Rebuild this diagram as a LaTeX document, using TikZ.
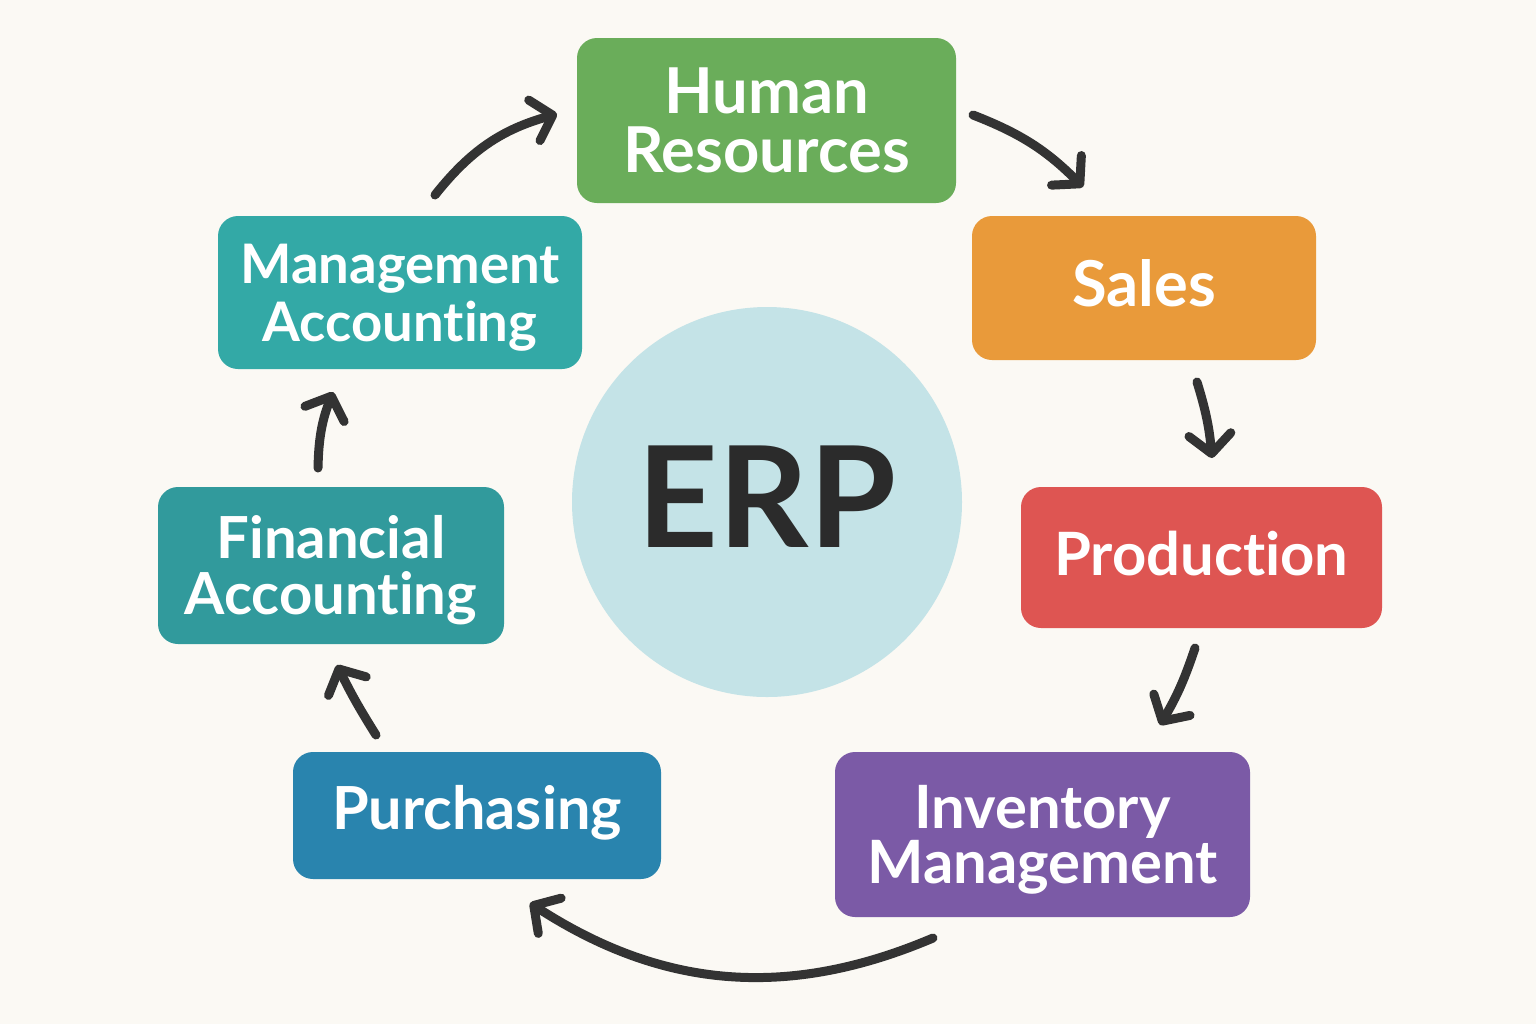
\documentclass[tikz,border=0pt]{standalone}
\usepackage{fontspec}
\setmainfont{Lato}[Ligatures=NoCommon]
\usetikzlibrary{arrows.meta}
\definecolor{bg}{HTML}{FBF9F4}
\definecolor{hrc}{HTML}{6AAD5A}
\definecolor{salc}{HTML}{E99A3A}
\definecolor{proc}{HTML}{DE5552}
\definecolor{invc}{HTML}{7B5AA6}
\definecolor{purc}{HTML}{2984AE}
\definecolor{finc}{HTML}{319A9C}
\definecolor{mgtc}{HTML}{33A9A6}
\definecolor{erpc}{HTML}{C4E3E7}
\definecolor{ink}{HTML}{333333}
\definecolor{erpt}{HTML}{2B2B2B}
\tikzset{
  module/.style={rectangle, rounded corners=0.2cm, text=white, align=center, inner sep=0pt},
  lbl/.style n args={4}{font=\fontsize{#1}{#2}\selectfont\bfseries, text height=#3, text depth=#4},
  flow/.style={draw=ink, line width=0.09cm, line cap=round,
    -{Straight Barb[length=1.9mm,width=4.2mm,line cap=round,line join=round]}},
}
\begin{document}
\begin{tikzpicture}
\fill[bg] (0,0) rectangle (15.36,-10.24);
\useasboundingbox (0,0) rectangle (15.36,-10.24);

\node[circle, fill=erpc, minimum size=3.9cm, inner sep=0pt, text=erpt,
  lbl={40}{40}{28.7pt}{3.1pt}] (erp) at (7.67,-5.02) {ERP};

\node[module, fill=hrc, minimum width=3.79cm, minimum height=1.65cm, lbl={18}{16.8}{29.7pt}{0pt}] (hr) at (7.665,-1.205) {Human\\Resources};
\node[module, fill=salc, minimum width=3.44cm, minimum height=1.44cm, lbl={18}{18}{12.9pt}{2.5pt}] (sales) at (11.44,-2.88) {Sales};
\node[module, fill=proc, minimum width=3.61cm, minimum height=1.41cm, lbl={17}{17}{12.2pt}{1.7pt}] (prod) at (12.015,-5.575) {Production};
\node[module, fill=invc, minimum width=4.15cm, minimum height=1.65cm, lbl={17}{15.6}{27.8pt}{0pt}] (inv) at (10.425,-8.345) {Inventory\\Management};
\node[module, fill=purc, minimum width=3.68cm, minimum height=1.27cm, lbl={16.9}{16.9}{12.1pt}{4.3pt}] (pur) at (4.77,-8.155) {Purchasing};
\node[module, fill=finc, minimum width=3.46cm, minimum height=1.57cm, lbl={16.5}{15.9}{27.7pt}{0pt}] (fin) at (3.31,-5.655) {Financial\\Accounting};
\node[module, fill=mgtc, minimum width=3.64cm, minimum height=1.53cm, lbl={15.5}{16.5}{27.6pt}{0pt}] (mgt) at (4.00,-2.925) {Management\\Accounting};

% connector end points, set off from the boxes
\coordinate (m2h) at (4.35,-1.95);   \coordinate (h2m) at (5.57,-1.14);
\coordinate (h2s) at (9.73,-1.15);   \coordinate (s2h) at (10.83,-1.87);
\coordinate (s2p) at (11.97,-3.82);  \coordinate (p2s) at (12.12,-4.58);
\coordinate (p2i) at (11.95,-6.48);  \coordinate (i2p) at (11.60,-7.25);
\coordinate (i2u) at (9.33,-9.38);   \coordinate (u2i) at (5.30,-9.03);
\coordinate (u2f) at (3.76,-7.35);   \coordinate (f2u) at (3.37,-6.65);
\coordinate (f2m) at (3.18,-4.68);   \coordinate (m2f) at (3.33,-3.92);

\draw[flow] (m2h) to[bend left=18] (h2m);
\draw[flow] (h2s) to[bend left=12] (s2h);
\draw[flow] (s2p) to[bend left=6] (p2s);
\draw[flow] (p2i) to[bend left=6] (i2p);
\draw[flow] (i2u) to[bend left=28] (u2i);
\draw[flow] (u2f) to[bend left=3] (f2u);
\draw[flow] (f2m) to[bend left=10] (m2f);
\end{tikzpicture}
\end{document}
